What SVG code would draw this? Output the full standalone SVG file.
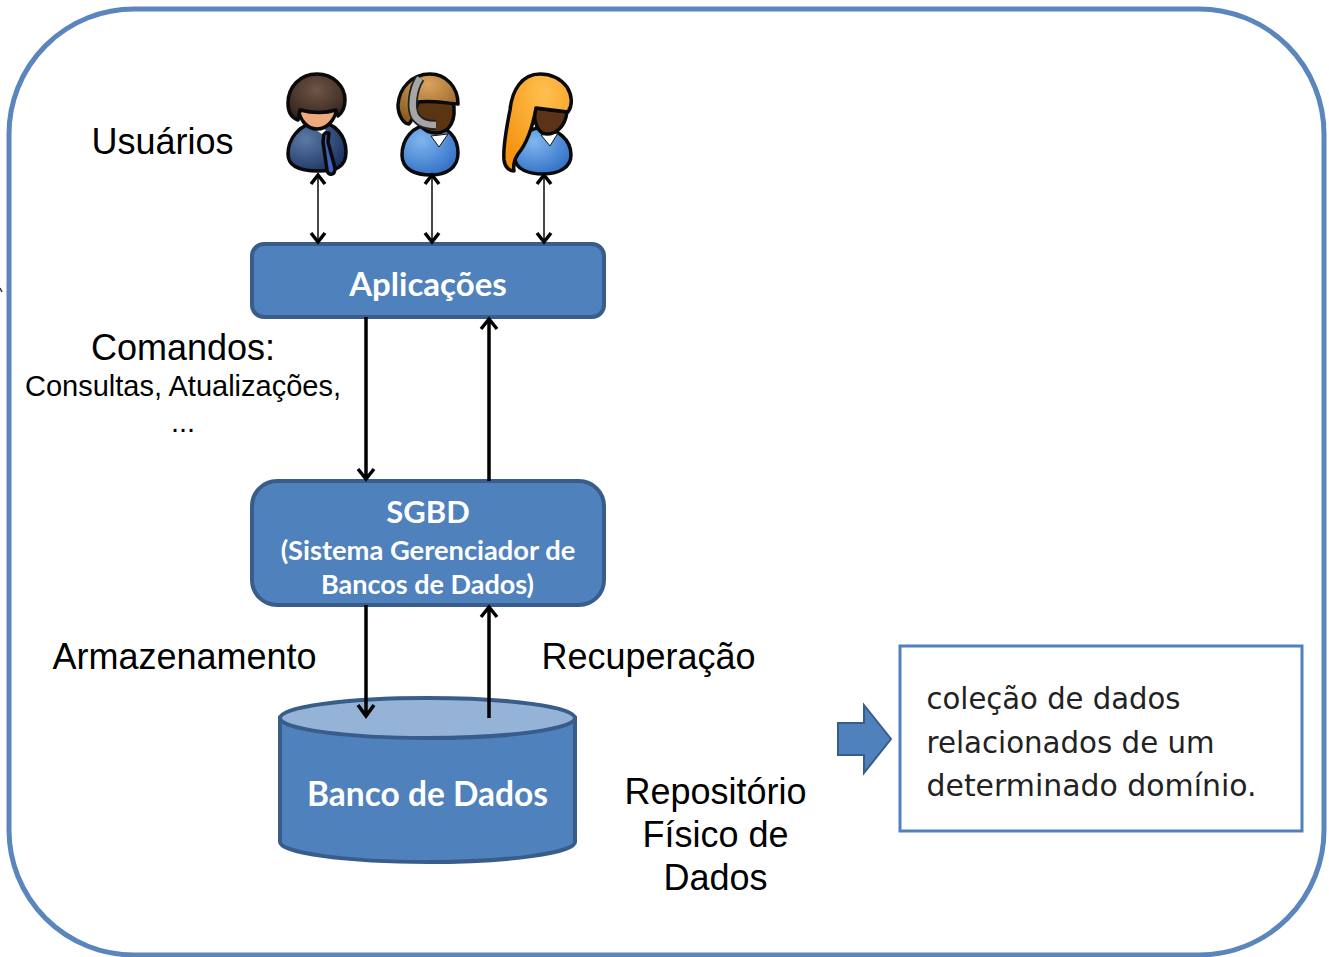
<svg xmlns="http://www.w3.org/2000/svg" width="1329" height="957" viewBox="0 0 1329 957">
<style>
.a{font-family:"Liberation Sans",Arial,sans-serif;fill:#000;text-anchor:middle}
.w{font-family:Lato,"Open Sans",sans-serif;font-weight:700;fill:#fff;text-anchor:middle}
.d{font-family:"DejaVu Sans",sans-serif;fill:#222;font-size:30px}
.box{fill:#4f81bd;stroke:#385d8a;stroke-width:4}
.ol{stroke:#0a0a0a;stroke-width:3.5;stroke-linejoin:round}
.t{fill:none;stroke:#000;stroke-width:3.5}
.th{fill:none;stroke:#333;stroke-width:1.8}
.h{fill:none;stroke:#000;stroke-width:3.5}
</style>
<defs>
<radialGradient id="gb" cx=".5" cy=".35" r=".7"><stop offset="0" stop-color="#6f5646"/><stop offset="1" stop-color="#32211a"/></radialGradient>
<radialGradient id="gs" cx=".3" cy=".35" r=".8"><stop offset="0" stop-color="#5a7aa6"/><stop offset="1" stop-color="#1a2f5e"/></radialGradient>
<radialGradient id="gl" cx=".35" cy=".3" r=".8"><stop offset="0" stop-color="#7fb6ee"/><stop offset="1" stop-color="#2e6cc4"/></radialGradient>
<radialGradient id="go" cx=".6" cy=".2" r=".8"><stop offset="0" stop-color="#ffc050"/><stop offset="1" stop-color="#f5920f"/></radialGradient>
<radialGradient id="gh" cx=".5" cy=".2" r=".8"><stop offset="0" stop-color="#d9a45c"/><stop offset="1" stop-color="#8a5a1e"/></radialGradient>
</defs>
<rect x="0" y="0" width="1329" height="957" fill="#fff"/>
<rect id="frame" x="9" y="9" width="1315" height="946" rx="125" ry="125" fill="#fff" stroke="#5b86bd" stroke-width="5"/>
<path d="M0 288L2 292" stroke="#333" stroke-width="1.500" fill="none"/>
<text class="a" x="162.500" y="153.500" font-size="36">Usuários</text>
<g id="user1">
<path class="ol" fill="url(#gs)" d="M318 122C298 124 288 140 288 154C288 168 302 171 318 171C335 171 346 168 346 152C346 136 335 122 318 122Z"/>
<path class="ol" fill="#3f62c0" stroke-width="2" d="M324 133L329 133L328 142L335 168C335 176 328 176 327 170L323 142Z"/>
<path fill="#fff" d="M316 130L322 134L326 130L322 128Z"/>
<path class="ol" fill="#eeaa7e" d="M298 106L337 106C336 120 327 129 317 129C307 129 299 120 298 106Z"/>
<path class="ol" fill="url(#gb)" d="M317 74C300 74 288 87 288 103C288 112 292 118 298 120L300 110C312 113 326 113 336 110L338 116C343 112 345 107 345 100C345 86 333 74 317 74Z"/>
</g>
<g id="user2">
<path class="ol" fill="url(#gl)" d="M430 125C412 125 402 140 402 155C402 170 416 175 431 175C446 175 458 168 458 153C458 138 448 125 430 125Z"/>
<path fill="#fff" stroke="#111" stroke-width="1" d="M431 136L448 134L439 147Z"/>
<path class="ol" fill="#5a3413" d="M415 100L453 100C457 120 450 133 436 133C425 133 413 125 415 100Z"/>
<path class="ol" fill="url(#gh)" d="M430 74C412 74 399 88 398 105C398 116 404 124 409 124C414 118 416 108 418 102C430 100 445 103 458 104C458 87 446 74 430 74Z"/>
<path fill="none" stroke="#222" stroke-width="10" d="M420 78C412 90 411 108 415 116C420 124 428 125 436 125"/>
<path fill="none" stroke="#a6a6a6" stroke-width="6.500" d="M420 78C412 90 411 108 415 116C420 124 428 125 436 125"/>
</g>
<g id="user3">
<path class="ol" fill="url(#gl)" d="M540 128C525 128 515 145 515 158C515 170 530 174 543 174C558 174 571 168 571 155C571 140 558 128 540 128Z"/>
<path fill="#fff" stroke="#111" stroke-width="1" d="M541 135L558 133L550 146Z"/>
<path class="ol" fill="#5c3318" d="M535 108L567 112C565 128 555 134 547 134C538 134 533 122 535 108Z"/>
<path class="ol" fill="url(#go)" d="M540 74C522 74 512 90 510 110C506 130 503 150 504 160C505 168 510 171 514 171C513 165 514 160 518 154C528 142 533 125 536 108L568 112C573 105 572 95 567 87C560 78 550 74 540 74Z"/>
</g>
<g id="apps"><rect class="box" x="252" y="244" width="352" height="73" rx="12"/><text class="w" x="428" y="295.500" font-size="33">Aplicações</text></g>
<g id="sgbd"><rect class="box" x="252" y="481" width="352" height="124" rx="25"/>
<text class="w" x="428" y="523" font-size="31">SGBD</text>
<text class="w" x="428" y="560" font-size="27.300">(Sistema Gerenciador de</text>
<text class="w" x="427.500" y="593.500" font-size="27">Bancos de Dados)</text></g>
<g id="db">
<path class="box" d="M280 718V842C280 853 347 862 428 862C509 862 575 853 575 842V718Z"/>
<ellipse cx="427.500" cy="718" rx="147.500" ry="20" fill="#95b3d7" stroke="#385d8a" stroke-width="4"/>
<text class="w" x="427.500" y="805.500" font-size="33.500">Banco de Dados</text></g>
<g id="connectors">
<path class="th" d="M318 176V242M432 176V242M544 176V242"/>
<path class="h" d="M311 184L318 175L325 184M311 233L318 242L325 233M425 184L432 175L439 184M425 233L432 242L439 233M537 184L544 175L551 184M537 233L544 242L551 233"/>
<path class="t" d="M366 317V479M358 469L366 479L374 469M489 481V319M481 329L489 319L497 329M366 605V716M358 705L366 716L374 705M489 718V607M481 617L489 607L497 617"/>
</g>
<text class="a" x="183" y="360" font-size="36">Comandos:</text>
<text class="a" x="183" y="395.500" font-size="29">Consultas, Atualizações,</text>
<text class="a" x="183" y="432" font-size="29">...</text>
<text class="a" x="184.500" y="668.500" font-size="36">Armazenamento</text>
<text class="a" x="648.500" y="668.500" font-size="36">Recuperação</text>
<text class="a" x="715.500" y="803.500" font-size="36">Repositório</text>
<text class="a" x="715.500" y="846.500" font-size="36">Físico de</text>
<text class="a" x="715.500" y="890" font-size="36">Dados</text>
<path id="bigarrow" d="M838 723H864V705L891 739L864 773V755H838Z" fill="#4f81bd" stroke="#385d8a" stroke-width="2"/>
<g id="note"><rect x="900" y="646" width="402" height="185" fill="#fff" stroke="#4f81bd" stroke-width="3"/>
<text class="d" x="926.500" y="709" textLength="254" lengthAdjust="spacingAndGlyphs">coleção de dados</text>
<text class="d" x="926.500" y="753" textLength="288" lengthAdjust="spacingAndGlyphs">relacionados de um</text>
<text class="d" x="926.500" y="796" textLength="330" lengthAdjust="spacingAndGlyphs">determinado domínio.</text></g>
</svg>
